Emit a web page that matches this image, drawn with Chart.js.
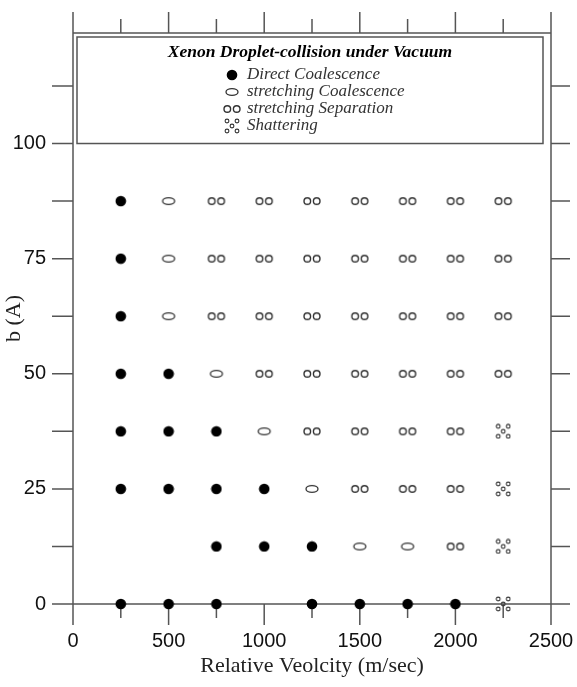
<!DOCTYPE html>
<html>
<head>
<meta charset="utf-8">
<script src="https://cdn.jsdelivr.net/npm/chart.js@4/dist/chart.umd.min.js"></script>
<style>
  html, body { margin: 0; padding: 0; background: #fff; }
  canvas { display: block; }
</style>
</head>
<body>
<canvas id="collision-chart" width="577" height="687"></canvas>
<script>
const velocities = [250, 500, 750, 1000, 1250, 1500, 1750, 2000, 2250];
const impactParameters = [87.5, 75, 62.5, 50, 37.5, 25, 12.5, 0];
// D = direct coalescence, C = stretching coalescence, S = stretching separation, X = shattering
const regimeRows = [
  ["D", "C", "S", "S", "S", "S", "S", "S", "S"],
  ["D", "C", "S", "S", "S", "S", "S", "S", "S"],
  ["D", "C", "S", "S", "S", "S", "S", "S", "S"],
  ["D", "D", "C", "S", "S", "S", "S", "S", "S"],
  ["D", "D", "D", "C", "S", "S", "S", "S", "X"],
  ["D", "D", "D", "D", "C", "S", "S", "S", "X"],
  ["", "", "D", "D", "D", "C", "C", "S", "X"],
  ["D", "D", "D", "", "D", "D", "D", "D", "X"]
];
const regimeCodes = ["D", "C", "S", "X"];
const regimeLabels = ["Direct Coalescence", "stretching Coalescence", "stretching Separation", "Shattering"];
const legendTitle = "Xenon Droplet-collision under Vacuum";
const xTickLabels = [0, 500, 1000, 1500, 2000, 2500];
const yTickLabels = [0, 25, 50, 75, 100];
const xMinorStep = 250;
const yMinorStep = 12.5;

function makeMarker(width, height, draw) {
  const canvas = document.createElement("canvas");
  canvas.width = width;
  canvas.height = height;
  draw(canvas.getContext("2d"));
  return canvas;
}

function ring(ctx, x, y, r) {
  ctx.beginPath();
  ctx.arc(x, y, r, 0, Math.PI * 2);
  ctx.stroke();
}

const markers = {
  D: makeMarker(12, 12, (ctx) => {
    ctx.fillStyle = "#000";
    ctx.beginPath();
    ctx.arc(6, 6, 5.3, 0, Math.PI * 2);
    ctx.fill();
  }),
  C: makeMarker(16, 10, (ctx) => {
    ctx.strokeStyle = "#333";
    ctx.lineWidth = 1.3;
    ctx.beginPath();
    ctx.ellipse(8, 5, 6, 3.4, 0, 0, Math.PI * 2);
    ctx.stroke();
  }),
  S: makeMarker(20, 10, (ctx) => {
    ctx.strokeStyle = "#333";
    ctx.lineWidth = 1.4;
    ring(ctx, 5.3, 5, 3.3);
    ring(ctx, 14.7, 5, 3.3);
  }),
  X: makeMarker(16, 16, (ctx) => {
    ctx.strokeStyle = "#333";
    ctx.lineWidth = 1.1;
    ring(ctx, 3, 3, 1.9);
    ring(ctx, 13, 3, 1.9);
    ring(ctx, 8, 8, 1.9);
    ring(ctx, 3, 13, 1.9);
    ring(ctx, 13, 13, 1.9);
  })
};

function pointsFor(code) {
  const points = [];
  regimeRows.forEach((row, r) => {
    row.forEach((cell, c) => {
      if (cell === code) {
        points.push({ x: velocities[c], y: impactParameters[r] });
      }
    });
  });
  return points;
}

const frameAxes = {
  id: "frameAxes",
  beforeDatasetsDraw(chart) {
    const { ctx, chartArea: area, scales: { x, y } } = chart;
    const y0 = y.getPixelForValue(0);
    const major = 21;
    const minor = 14;

    ctx.save();
    ctx.strokeStyle = "#555";
    ctx.lineWidth = 1.5;
    ctx.beginPath();

    ctx.moveTo(area.left, area.top - major);
    ctx.lineTo(area.left, y0 + major);
    ctx.moveTo(area.right, area.top - major);
    ctx.lineTo(area.right, y0 + major);
    ctx.moveTo(area.left, area.top);
    ctx.lineTo(area.right, area.top);

    for (let v = x.min; v <= x.max; v += xMinorStep) {
      const px = x.getPixelForValue(v);
      const len = v % 500 === 0 ? major : minor;
      ctx.moveTo(px, y0);
      ctx.lineTo(px, y0 + len);
      ctx.moveTo(px, area.top);
      ctx.lineTo(px, area.top - len);
    }

    for (let v = 0; v < y.max; v += yMinorStep) {
      const py = y.getPixelForValue(v);
      ctx.moveTo(area.left - major, py);
      ctx.lineTo(area.left, py);
      ctx.moveTo(area.right, py);
      ctx.lineTo(area.right + 19, py);
    }

    ctx.moveTo(area.left, y0);
    ctx.lineTo(area.right, y0);
    ctx.stroke();
    ctx.restore();
  }
};

const legendBox = {
  id: "legendBox",
  afterDraw(chart) {
    const { ctx, chartArea: area, scales: { y } } = chart;
    const left = area.left + 4;
    const right = area.right - 8;
    const top = area.top + 4;
    const bottom = y.getPixelForValue(100);

    ctx.save();
    ctx.strokeStyle = "#555";
    ctx.lineWidth = 1.5;
    ctx.strokeRect(left, top, right - left, bottom - top);

    const cx = (left + right) / 2;
    ctx.fillStyle = "#000";
    ctx.textAlign = "center";
    ctx.textBaseline = "middle";
    ctx.font = "bold italic 17.5px 'Liberation Serif'";
    ctx.fillText(legendTitle, cx, top + 15);

    ctx.textAlign = "left";
    ctx.font = "italic 17px 'Liberation Serif'";
    ctx.fillStyle = "#333";
    regimeCodes.forEach((code, i) => {
      const rowY = top + 38 + i * 17;
      const m = markers[code];
      ctx.drawImage(m, 232 - m.width / 2, rowY - m.height / 2);
      ctx.fillText(regimeLabels[i], 247, rowY);
    });
    ctx.restore();
  }
};

new Chart(document.getElementById("collision-chart"), {
  type: "scatter",
  data: {
    datasets: regimeCodes.map((code, i) => ({
      label: regimeLabels[i],
      data: pointsFor(code),
      pointStyle: markers[code],
      pointRadius: 6,
      clip: false
    }))
  },
  options: {
    responsive: false,
    animation: false,
    devicePixelRatio: 1,
    layout: { padding: { top: 33, right: 26, left: 0, bottom: 0 } },
    plugins: {
      legend: { display: false },
      tooltip: { enabled: false }
    },
    scales: {
      x: {
        type: "linear",
        min: 0,
        max: 2500,
        afterBuildTicks: (scale) => { scale.ticks = xTickLabels.map((v) => ({ value: v })); },
        afterFit: (scale) => {
          scale.height = 83;
          scale.paddingLeft = 0;
          scale.paddingRight = 0;
        },
        grid: { display: false, drawTicks: false },
        border: { display: false },
        ticks: {
          padding: 25,
          color: "#111",
          font: { family: "'Liberation Sans'", size: 20 },
          callback: (value) => String(value)
        },
        title: {
          display: true,
          text: "Relative Veolcity (m/sec)",
          color: "#222",
          font: { family: "'Liberation Serif'", size: 22, lineHeight: 1.55 }
        }
      },
      y: {
        type: "linear",
        min: 0,
        max: 124,
        afterBuildTicks: (scale) => { scale.ticks = yTickLabels.map((v) => ({ value: v })); },
        afterFit: (scale) => {
          scale.width = 73;
          scale.paddingTop = 0;
          scale.paddingBottom = 0;
        },
        grid: { display: false, drawTicks: false },
        border: { display: false },
        ticks: {
          padding: 27,
          color: "#111",
          font: { family: "'Liberation Sans'", size: 20 },
          callback: (value) => String(value)
        },
        title: {
          display: true,
          text: "b (A)",
          color: "#222",
          font: { family: "'Liberation Serif'", size: 22, lineHeight: 0.95 }
        }
      }
    }
  },
  plugins: [frameAxes, legendBox]
});
</script>
</body>
</html>
